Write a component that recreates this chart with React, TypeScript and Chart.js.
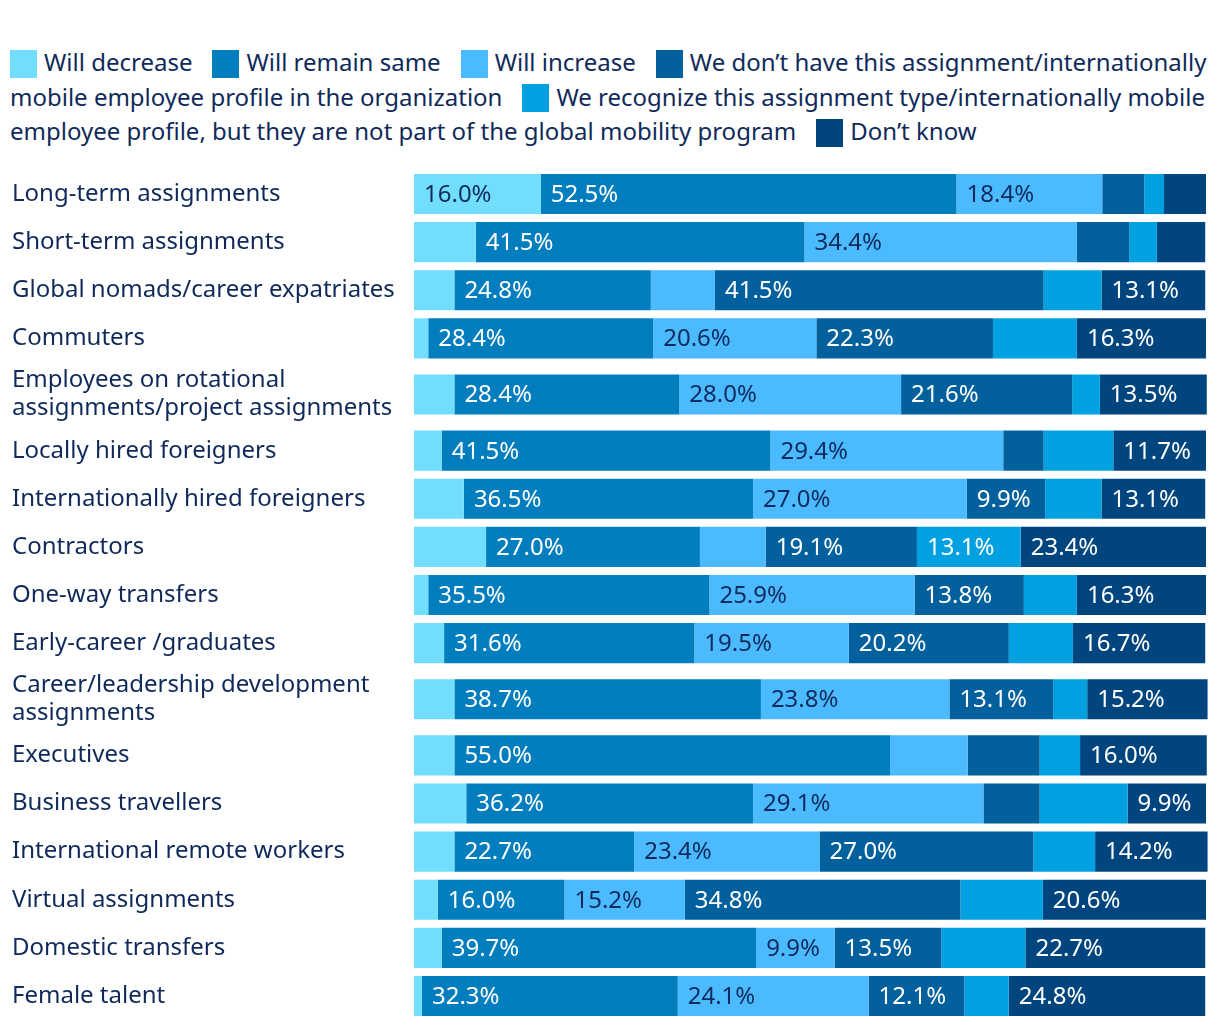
import React, { useEffect, useRef } from 'react';
import { Chart, registerables } from 'chart.js';

Chart.register(...registerables);

// ---------- data ----------
const categories: (string | string[])[] = [
  'Long-term assignments',
  'Short-term assignments',
  'Global nomads/career expatriates',
  'Commuters',
  ['Employees on rotational', 'assignments/project assignments'],
  'Locally hired foreigners',
  'Internationally hired foreigners',
  'Contractors',
  'One-way transfers',
  'Early-career /graduates',
  ['Career/leadership development', 'assignments'],
  'Executives',
  'Business travellers',
  'International remote workers',
  'Virtual assignments',
  'Domestic transfers',
  'Female talent',
];

const seriesNames = [
  'Will decrease',
  'Will remain same',
  'Will increase',
  'We don\u2019t have this assignment/internationally mobile employee profile in the organization',
  'We recognize this assignment type/internationally mobile employee profile, but they are not part of the global mobility program',
  'Don\u2019t know',
];

const willDecrease = [16.0, 7.8, 5.1, 1.8, 5.1, 3.5, 6.3, 9.1, 1.8, 3.8, 5.1, 5.1, 6.6, 5.1, 3.0, 3.5, 1.0];
const willRemainSame = [52.5, 41.5, 24.8, 28.4, 28.4, 41.5, 36.5, 27.0, 35.5, 31.6, 38.7, 55.0, 36.2, 22.7, 16.0, 39.7, 32.3];
const willIncrease = [18.4, 34.4, 8.1, 20.6, 28.0, 29.4, 27.0, 8.3, 25.9, 19.5, 23.8, 9.8, 29.1, 23.4, 15.2, 9.9, 24.1];
const dontHave = [5.3, 6.6, 41.5, 22.3, 21.6, 5.1, 9.9, 19.1, 13.8, 20.2, 13.1, 9.1, 7.1, 27.0, 34.8, 13.5, 12.1];
const recognizeNotInProgram = [2.5, 3.5, 7.3, 10.6, 3.5, 8.8, 7.1, 13.1, 6.7, 8.1, 4.3, 5.1, 11.1, 7.8, 10.4, 10.6, 5.6];
const dontKnow = [5.3, 6.1, 13.1, 16.3, 13.5, 11.7, 13.1, 23.4, 16.3, 16.7, 15.2, 16.0, 9.9, 14.2, 20.6, 22.7, 24.8];

const series = [willDecrease, willRemainSame, willIncrease, dontHave, recognizeNotInProgram, dontKnow];

// ---------- styles ----------
const colors = ['#72DEFE', '#027DBE', '#4CBAFE', '#02609D', '#01A0E0', '#01457F'];
const labelColors = ['#0E2B5C', '#FFFFFF', '#0E2B5C', '#FFFFFF', '#FFFFFF', '#FFFFFF'];
const labelMin = [9.85, 9.85, 9.85, 9.85, 12, 9.85];
const navy = '#0F2A5A';
const FONT = '"Noto Sans", "Open Sans", sans-serif';

// row layout: two-line labels get taller rows
const rowSpans = categories.map((c) => (Array.isArray(c) ? 4 : 3));
const centers: number[] = [];
let acc = 0;
rowSpans.forEach((s) => {
  centers.push(acc + s / 2);
  acc += s;
});
const totalSpan = acc;

const labelPlugin = {
  id: 'segLabels',
  afterDatasetsDraw(chart: any) {
    const ctx = chart.ctx;
    ctx.save();
    ctx.font = `24px ${FONT}`;
    ctx.textBaseline = 'middle';
    ctx.textAlign = 'left';
    chart.data.datasets.forEach((_ds: any, di: number) => {
      const meta = chart.getDatasetMeta(di);
      meta.data.forEach((el: any, i: number) => {
        const v = series[di][i];
        if (v < labelMin[di]) return;
        const p = el.getProps(['x', 'y', 'base'], true);
        ctx.fillStyle = labelColors[di];
        ctx.fillText(v.toFixed(1) + '%', Math.min(p.x, p.base) + 10, p.y + 1);
      });
    });
    ctx.restore();
  },
};

export default function App() {
  const canvasRef = useRef<HTMLCanvasElement | null>(null);

  useEffect(() => {
    if (!canvasRef.current) return;
    const chart = new Chart(canvasRef.current, {
      type: 'bar',
      data: {
        datasets: series.map((vals, di) => ({
          label: seriesNames[di],
          data: vals.map((v, i) => ({ x: v, y: centers[i] })),
          backgroundColor: colors[di],
          borderWidth: 0,
          categoryPercentage: 1,
          barPercentage: 40 / 48,
          clip: false as any,
        })),
      },
      options: {
        indexAxis: 'y',
        animation: false,
        responsive: true,
        maintainAspectRatio: false,
        layout: { autoPadding: false, padding: { left: 12, right: 14, top: 20, bottom: 8 } },
        plugins: {
          legend: { display: false },
          title: { display: false },
          tooltip: { enabled: false },
        },
        scales: {
          x: {
            type: 'linear',
            min: 0,
            max: 100,
            stacked: true,
            display: false,
          },
          y: {
            type: 'linear',
            offset: false,
            reverse: true,
            min: 0,
            max: totalSpan,
            stacked: true,
            grid: { display: false, drawTicks: false, offset: false },
            border: { display: false },
            afterBuildTicks: (scale: any) => {
              scale.ticks = centers.map((v) => ({ value: v }));
            },
            afterFit: (scale: any) => {
              scale.width = 402;
              scale.paddingTop = 0;
              scale.paddingBottom = 0;
            },
            ticks: {
              crossAlign: 'far',
              padding: 0,
              autoSkip: false,
              color: navy,
              font: { family: FONT, size: 24, lineHeight: 1.17 },
              callback: (val: any) => {
                const i = centers.indexOf(Number(val));
                return i >= 0 ? (categories[i] as any) : '';
              },
            },
          },
        },
      },
      plugins: [labelPlugin],
    } as any);
    return () => chart.destroy();
  }, []);

  return (
    <div>
      <div
        style={{
          position: 'absolute',
          left: 0,
          top: 0,
          width: 1220,
          boxSizing: 'border-box',
          padding: '45px 6px 0 10px',
          fontFamily: FONT,
          fontSize: 24,
          lineHeight: '34.5px',
          color: navy,
        }}
      >
        {seriesNames.map((n, i) => (
          <span key={i} style={{ marginRight: 20 }}>
            <span
              style={{
                display: 'inline-block',
                width: 27,
                height: 28,
                background: colors[i],
                verticalAlign: 'middle',
                marginRight: 7,
                position: 'relative',
                top: -1,
              }}
            />
            {n}
          </span>
        ))}
      </div>
      <div style={{ position: 'absolute', left: 0, top: 150, width: 1220, height: 878 }}>
        <canvas ref={canvasRef} style={{ display: 'block' }} />
      </div>
    </div>
  );
}
